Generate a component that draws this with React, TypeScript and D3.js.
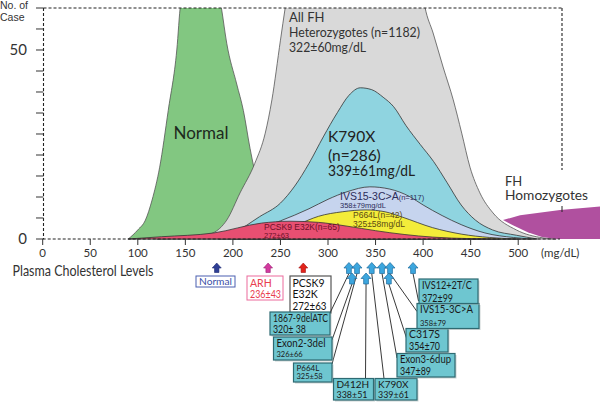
import React from "react";
import * as d3 from "d3";

// ---------- data ----------
const xTickValues = [0, 50, 100, 150, 200, 250, 300, 350, 400, 450, 500];
const caseTickValues = [0, 5.56, 11.11, 16.67, 22.22, 27.78, 33.33, 38.89, 44.44, 50, 55.56, 61.11];
const caseTickLabels = [0, 50];

// [cholesterol mg/dL, no. of cases]
const normalCurve: [number, number][] = [
  [90, 0], [100, 2.4], [108, 5], [115, 10.3], [123, 19], [132, 34], [141, 50], [145, 62],
  [150, 66], [170, 70], [186, 64], [188, 61], [193.5, 51.8], [204, 41], [211, 34], [218, 24],
  [222, 19], [235, 8], [250, 2], [265, 0],
];
const allFHCurve: [number, number][] = [
  [120, 0], [160, 0.5], [179, 1.6], [193.5, 5], [207.5, 12.2], [223, 20], [234, 28], [241, 36.8],
  [250, 52.6], [255, 61.2], [258, 66], [300, 72], [360, 72], [400, 64], [402, 61.3], [410.5, 54.5],
  [421, 45.5], [431.7, 36.8], [440.6, 28], [449.3, 19], [459.7, 12.2], [473.5, 6.9], [498, 2.4],
  [526, 0.3], [540, 0],
];
const k790xCurve: [number, number][] = [
  [185, 0], [200, 1.5], [228, 5.9], [250, 9.5], [265, 14], [280, 20], [295, 27], [310, 33.5],
  [322, 38], [334, 40], [346, 39.5], [358, 37.5], [369, 35], [382, 30], [397, 25], [411, 20.5],
  [425, 15], [440, 9], [455, 5], [473, 2.4], [498, 1], [520, 0],
];
const ivs15Curve: [number, number][] = [
  [200, 0], [230, 3], [250, 4.8], [280, 8], [300, 10.5], [320, 12.5], [344, 13.8], [365, 13.2],
  [386, 11.2], [400, 9], [420, 6.2], [440, 3.8], [465, 1.6], [495, 0.4], [515, 0],
];
const p664lCurve: [number, number][] = [
  [240, 0.5], [270, 4], [290, 6], [315, 7.2], [340, 7.7], [360, 7.2], [378, 5.8], [410, 3],
  [440, 1.3], [470, 0.4], [500, 0],
];
const pcsk9Curve: [number, number][] = [
  [90, 0], [125, 0.6], [180, 1.6], [230, 4.2], [260, 4.7], [290, 4.4], [320, 3.4], [350, 2.2],
  [380, 1.2], [410, 0.5], [450, 0.1], [480, 0],
];
const homoTop: [number, number][] = [[484, 5], [502, 6.3], [544, 7.7], [586, 8.6]];
const homoBottom: [number, number][] = [[484, 5], [495, 3.6], [510, 1.8], [525, 0.5], [540, 0], [586, 0]];

// arrows: positions on cholesterol scale
const refArrows = [
  { name: "Normal", at: 183 },
  { name: "ARH", at: 237 },
  { name: "PCSK9", at: 274 },
];
const mutArrowsRow1 = [322, 330.5, 346, 356.8, 365.2, 389.4];
const mutArrowsRow2 = [325.2, 340, 364];

const mutationNames = [
  "1867-9delATC", "Exon2-3del", "P664L", "D412H", "K790X", "Exon3-6dup", "C317S", "IVS15-3C>A", "IVS12+2T/C",
];
const mutationStats = ["320± 38", "326±66", "325±58", "338±51", "339±61", "347±89", "354±70", "358±79", "372±99"];

// ---------- layout (positions / styles) ----------
const W = 600, H = 402;
const xScale = d3.scaleLinear().domain([0, 586]).range([42.7, 600]);
const yScale = d3.scaleLinear().domain([0, 61.11]).range([239, 8]);

const FONT = "Lato, 'Open Sans', sans-serif";

// box layout for each mutation: x0,y0,x1,y1, font sizes, text widths, arrow (row, idx), anchor
const boxLayout = [
  { x0: 270, y0: 312, x1: 330, y1: 335, f1: 10.5, f2: 10.5, w1: 55, w2: 33, row: 1, idx: 0, ax: 330, ay: 313 },
  { x0: 273.5, y0: 337, x1: 332, y1: 360, f1: 10.5, f2: 7.5, w1: 49, w2: 0, row: 2, idx: 0, ax: 332, ay: 340 },
  { x0: 293.5, y0: 363, x1: 332, y1: 382, f1: 8, f2: 7.5, w1: 0, w2: 0, row: 1, idx: 1, ax: 332, ay: 364 },
  { x0: 333.5, y0: 378.5, x1: 373.5, y1: 400, f1: 10, f2: 10, w1: 0, w2: 31, row: 2, idx: 1, ax: 365.5, ay: 378.5 },
  { x0: 375, y0: 378.5, x1: 417, y1: 400, f1: 10, f2: 10, w1: 0, w2: 31, row: 1, idx: 2, ax: 384, ay: 378.5 },
  { x0: 397, y0: 353.5, x1: 455, y1: 377, f1: 10.5, f2: 10.5, w1: 51, w2: 31, row: 1, idx: 3, ax: 397, ay: 358 },
  { x0: 406, y0: 328.5, x1: 448, y1: 352, f1: 10.5, f2: 10.5, w1: 0, w2: 31, row: 2, idx: 2, ax: 406.5, ay: 338 },
  { x0: 417, y0: 303.5, x1: 479, y1: 328.5, f1: 10.5, f2: 7.5, w1: 53, w2: 0, row: 1, idx: 4, ax: 417, ay: 311.5 },
  { x0: 419, y0: 279, x1: 478, y1: 303.5, f1: 10.5, f2: 10.5, w1: 50, w2: 31, row: 1, idx: 5, ax: 418.5, ay: 301 },
];

const ROW1_TIP = 262.5, ROW2_TIP = 273;
const ARROW_H = 11;

function arrowPath(cx: number, tip: number, hw = 5, hh = 5.5, sw = 2.4, h = ARROW_H) {
  return `M${cx},${tip} L${cx + hw},${tip + hh} L${cx + sw},${tip + hh} L${cx + sw},${tip + h} L${cx - sw},${tip + h} L${cx - sw},${tip + hh} L${cx - hw},${tip + hh} Z`;
}

const areaGen = d3
  .area<[number, number]>()
  .x((d) => xScale(d[0]))
  .y0(yScale(0))
  .y1((d) => yScale(d[1]))
  .curve(d3.curveMonotoneX);

const homoPath = (() => {
  const line = d3.line<[number, number]>().x((d) => xScale(d[0])).y((d) => yScale(d[1]));
  const pts = [...homoTop, ...[...homoBottom].reverse()];
  return line(pts) + "Z";
})();

const OUT = "#555";
const ARIAL = "'Liberation Sans', Arial, sans-serif";

export default function App() {
  const y0 = yScale(0);
  const topY = yScale(61.11);
  const rightX = 562;
  return (
    <svg width={W} height={H} style={{ position: "absolute", left: 0, top: 0, background: "#fff" }} fontFamily={FONT}>
      <defs>
        <clipPath id="plotclip">
          <rect x={0} y={topY} width={W} height={y0 - topY + 1} />
        </clipPath>
      </defs>

      <g clipPath="url(#plotclip)">
        <path d={areaGen(normalCurve) || ""} fill="#82c781" stroke={OUT} strokeWidth={0.8} />
        <path d={areaGen(allFHCurve) || ""} fill="#d9d9d9" stroke={OUT} strokeWidth={0.8} />
        <path d={areaGen(k790xCurve) || ""} fill="#8fd4e0" stroke="#333" strokeWidth={0.8} />
        <path d={areaGen(ivs15Curve) || ""} fill="#c6d4ee" stroke="#333" strokeWidth={0.8} />
        <path d={areaGen(p664lCurve) || ""} fill="#f3ec3a" stroke="#333" strokeWidth={0.8} />
        <path d={areaGen(pcsk9Curve) || ""} fill="#e84f72" stroke="#333" strokeWidth={0.8} />
        <path d={homoPath} fill="#b0509f" stroke="none" />
      </g>

      {/* frame dashed lines */}
      <line x1={43.5} x2={rightX} y1={topY} y2={topY} stroke="#222" strokeWidth={1.1} strokeDasharray="3,2" />
      <line x1={rightX} x2={rightX} y1={topY} y2={170} stroke="#222" strokeWidth={1.1} strokeDasharray="3,2" />
      <line x1={rightX} x2={rightX} y1={206} y2={212} stroke="#222" strokeWidth={1} />
      <line x1={43.5} x2={43.5} y1={topY} y2={y0} stroke="#222" strokeWidth={1.1} strokeDasharray="3,2" />
      <line x1={42.7} x2={560} y1={y0} y2={y0} stroke="#222" strokeWidth={1.1} strokeDasharray="3,2" />

      {/* y ticks */}
      {caseTickValues.map((v, i) => (
        <line key={"yt" + i} x1={36} x2={43.5} y1={yScale(v)} y2={yScale(v)} stroke="#333" strokeWidth={1} />
      ))}
      {caseTickLabels.map((v) => (
        <text key={"yl" + v} x={27} y={yScale(v) + 5} textAnchor="end" fontSize={15} fill="#333">
          {v}
        </text>
      ))}
      <text x={0} y={8.5} fontSize={10.5} fill="#333" fontFamily={ARIAL}>No. of</text>
      <text x={0} y={20.5} fontSize={10.5} fill="#333" fontFamily={ARIAL}>Case</text>

      {/* x ticks */}
      {xTickValues.map((v) => (
        <g key={"xt" + v}>
          <line x1={xScale(v)} x2={xScale(v)} y1={y0} y2={y0 + 6} stroke="#333" strokeWidth={1} />
          <text x={xScale(v)} y={257} textAnchor="middle" fontSize={11.5} fill="#333">
            {v}
          </text>
        </g>
      ))}
      <text x={541} y={257} fontSize={11.5} fill="#333">(mg/dL)</text>
      <text x={12.5} y={276} fontSize={15} fill="#333" textLength={141} lengthAdjust="spacingAndGlyphs">
        Plasma Cholesterol Levels
      </text>

      {/* in-chart labels */}
      <text x={201} y={139} textAnchor="middle" fontSize={17} fill="#1d2a1d">Normal</text>
      <text x={289} y={22} fontSize={13} fill="#333">All FH</text>
      <text x={289} y={37} fontSize={13} fill="#333" textLength={131} lengthAdjust="spacingAndGlyphs">Heterozygotes (n=1182)</text>
      <text x={289} y={52} fontSize={13} fill="#333" textLength={77} lengthAdjust="spacingAndGlyphs">322±60mg/dL</text>

      <text x={328} y={142} fontSize={15.5} fill="#222">K790X</text>
      <text x={328} y={161} fontSize={15.5} fill="#222">(n=286)</text>
      <text x={328} y={175.5} fontSize={15.5} fill="#222" textLength={87} lengthAdjust="spacingAndGlyphs">339±61mg/dL</text>

      <text x={340} y={200} fontSize={10.5} fill="#2c2c5a" fontFamily={ARIAL}>
        IVS15-3C&gt;A<tspan fontSize={7.5}>(n=117)</tspan>
      </text>
      <text x={340} y={208} fontSize={7.5} fill="#2c2c5a" fontFamily={ARIAL}>358±79mg/dL</text>
      <text x={353} y={218} fontSize={8.5} fill="#5a4a12" fontFamily={ARIAL}>P664L(n=42)</text>
      <text x={353} y={226.5} fontSize={8.5} fill="#5a4a12" fontFamily={ARIAL}>325±58mg/dL</text>
      <text x={264} y={229.5} fontSize={8.5} fill="#6e1028" fontFamily={ARIAL}>PCSK9 E32K(n=65)</text>
      <text x={264} y={237.5} fontSize={7.5} fill="#6e1028" fontFamily={ARIAL}>272±63</text>

      <text x={505} y={186} fontSize={13} fill="#333">FH</text>
      <text x={505} y={200} fontSize={13} fill="#333" textLength={83} lengthAdjust="spacingAndGlyphs">Homozygotes</text>

      {/* reference arrows */}
      <path d={arrowPath(xScale(refArrows[0].at), 263, 4.5, 5, 2.2, 9.5)} fill="#2f3f95" stroke="#1c2870" strokeWidth={0.6} />
      <path d={arrowPath(xScale(refArrows[1].at), 263, 4.5, 5, 2.2, 9.5)} fill="#d33a9f" stroke="#9a1f72" strokeWidth={0.6} />
      <path d={arrowPath(xScale(refArrows[2].at), 263, 4.5, 5, 2.2, 9.5)} fill="#e2231a" stroke="#a01010" strokeWidth={0.6} />

      <rect x={196} y={276} width={39} height={11} fill="#fff" stroke="#4a5fb0" strokeWidth={1} />
      <text x={199} y={285} fontSize={10} fill="#3a4fa8" textLength={33} lengthAdjust="spacingAndGlyphs">{refArrows[0].name}</text>

      <rect x={247} y={276} width={36} height={24} fill="#fff" stroke="#ec6a9c" strokeWidth={1} />
      <text x={250} y={287} fontSize={10.5} fill="#e8404f">{refArrows[1].name}</text>
      <text x={250} y={298} fontSize={10.5} fill="#e8404f" textLength={31} lengthAdjust="spacingAndGlyphs">236±43</text>

      <rect x={290} y={276} width={41} height={37} fill="#fff" stroke="#555" strokeWidth={1.2} />
      <text x={292.5} y={286.5} fontSize={10.5} fill="#111">PCSK9</text>
      <text x={292.5} y={298} fontSize={10.5} fill="#111">E32K</text>
      <text x={292.5} y={309.5} fontSize={10.5} fill="#111" textLength={34} lengthAdjust="spacingAndGlyphs">272±63</text>

      {/* connector lines */}
      {boxLayout.map((b, i) => {
        const ax = xScale((b.row === 1 ? mutArrowsRow1 : mutArrowsRow2)[b.idx]);
        const ay = (b.row === 1 ? ROW1_TIP : ROW2_TIP) + ARROW_H;
        return <line key={"cl" + i} x1={ax} y1={ay} x2={b.ax} y2={b.ay} stroke="#222" strokeWidth={0.9} />;
      })}

      {/* mutation arrows */}
      {mutArrowsRow2.map((v, i) => (
        <path key={"r2" + i} d={arrowPath(xScale(v), ROW2_TIP)} fill="#3ca6de" stroke="#1f6c9c" strokeWidth={0.7} />
      ))}
      {mutArrowsRow1.map((v, i) => (
        <path key={"r1" + i} d={arrowPath(xScale(v), ROW1_TIP)} fill="#3ca6de" stroke="#1f6c9c" strokeWidth={0.7} />
      ))}

      {/* mutation boxes */}
      {boxLayout.map((b, i) => (
        <g key={"bx" + i}>
          <rect x={b.x0 + 1.5} y={b.y0 + 1.5} width={b.x1 - b.x0} height={b.y1 - b.y0} fill="#9aa" opacity={0.5} />
          <rect x={b.x0} y={b.y0} width={b.x1 - b.x0} height={b.y1 - b.y0} fill="#6ec6d0" stroke="#2e6a72" strokeWidth={1.2} />
          <text
            x={b.x0 + 3}
            y={b.y0 + (b.f1 > 9 ? 9.5 : 8)}
            fontSize={b.f1}
            fill="#1a1a1a"
            {...(b.w1 ? { textLength: b.w1, lengthAdjust: "spacingAndGlyphs" } : {})}
          >
            {mutationNames[i]}
          </text>
          <text
            x={b.x0 + 3}
            y={b.y1 - (b.f2 > 9 ? 2 : 3)}
            fontSize={b.f2}
            fill="#1a1a1a"
            {...(b.w2 ? { textLength: b.w2, lengthAdjust: "spacingAndGlyphs" } : {})}
          >
            {mutationStats[i]}
          </text>
        </g>
      ))}
    </svg>
  );
}
